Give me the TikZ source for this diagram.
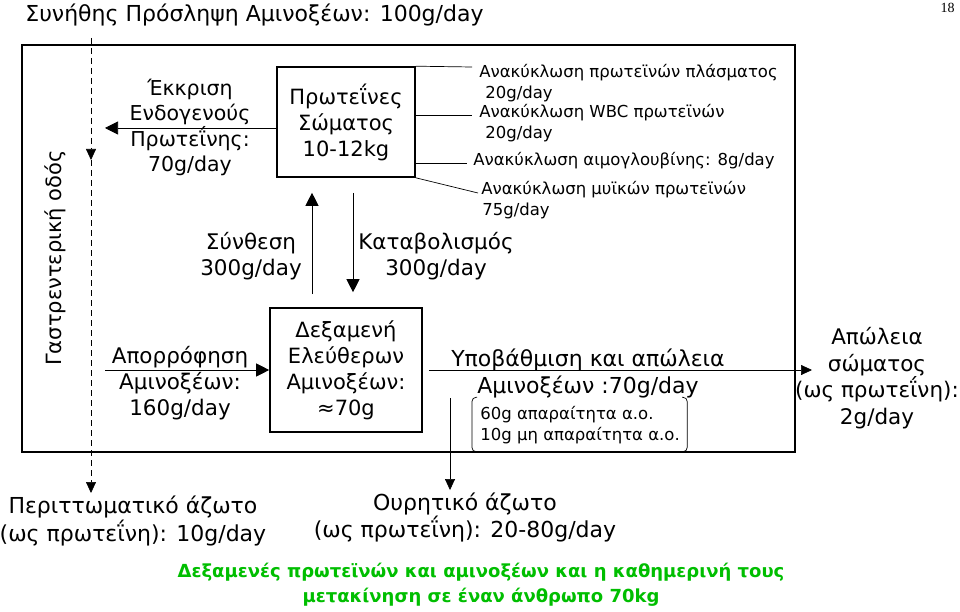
\documentclass[tikz,border=0pt]{standalone}
\usepackage{fontspec}
\setmainfont{DejaVu Sans}
\newfontfamily\pagefont{Liberation Serif}
\usetikzlibrary{arrows.meta}
\definecolor{poolgreen}{RGB}{0,190,0}
\tikzset{
  flow/.style={align=center, font=\fontsize{21.5}{26}\selectfont, inner sep=0pt},
  note/.style={align=left, font=\fontsize{16.5}{20.5}\selectfont, inner sep=0pt},
  store/.style={draw, line width=1.6pt, align=center, font=\fontsize{21}{26}\selectfont},
  lighttip/.style={>={Triangle[length=11pt,width=10pt]}}
}
\begin{document}
\begin{tikzpicture}[x=1pt,y=-1pt,line width=0.7pt,>={Triangle[length=13pt,width=13pt]}]
  \useasboundingbox (0,0) rectangle (960,612);

  \node (title)      at (25,15)   [anchor=west, inner sep=0pt, font=\fontsize{22}{26}\selectfont] {Συνήθης Πρόσληψη Αμινοξέων: 100g/day};
  \node (page)       at (955,8)   [anchor=east, inner sep=0pt, font=\fontsize{14}{16}\pagefont] {18};
  \node (frame)      at (408.5,248.5) [draw, line width=1.6pt, minimum width=773pt, minimum height=407pt] {};
  \node (gut)        at (55,258)  [rotate=90, inner sep=0pt, font=\fontsize{21}{25}\selectfont] {Γαστρεντερική οδός};

  \node (body)       at (346,122) [store, minimum width=138pt, minimum height=110pt] {Πρωτεΐνες\\Σώματος\\10-12kg};
  \node (pool)       at (346,370) [store, minimum width=152pt, minimum height=124pt] {Δεξαμενή\\Ελεύθερων\\Αμινοξέων:\\≈70g};

  \node (secretion)  at (190,127.5) [flow, font=\fontsize{20.5}{25.5}\selectfont] {Έκκριση\\Ενδογενούς\\Πρωτεΐνης:\\70g/day};
  \node (synthesis)  at (251,256) [flow] {Σύνθεση\\300g/day};
  \node (catabolism) at (436,256) [flow] {Καταβολισμός\\300g/day};
  \node (absorb)     at (180,383) [flow] {Απορρόφηση\\Αμινοξέων:\\160g/day};
  \node (degrade)    at (588,373.5) [flow, font=\fontsize{22}{27}\selectfont] {Υποβάθμιση και απώλεια\\Αμινοξέων :70g/day};
  \node (essential)  at (480,425.5) [note, anchor=west, font=\fontsize{16.5}{21}\selectfont] {60g απαραίτητα α.ο.\\10g μη απαραίτητα α.ο.};
  \node (loss)       at (877,378) [flow, font=\fontsize{21.5}{26.5}\selectfont] {Απώλεια\\σώματος\\(ως πρωτεΐνη):\\2g/day};
  \node (feces)      at (133,521) [flow, font=\fontsize{22}{26}\selectfont] {Περιττωματικό άζωτο\\(ως πρωτεΐνη): 10g/day};
  \node (urine)      at (465,518) [flow, font=\fontsize{22}{27}\selectfont] {Ουρητικό άζωτο\\(ως πρωτεΐνη): 20-80g/day};

  \node (plasma)     at (479,83)  [note, anchor=west] {Ανακύκλωση πρωτεϊνών πλάσματος\\\hspace*{6pt}20g/day};
  \node (wbc)        at (479,123) [note, anchor=west] {Ανακύκλωση WBC πρωτεϊνών\\\hspace*{6pt}20g/day};
  \node (hemo)       at (473,161) [note, anchor=west] {Ανακύκλωση αιμογλουβίνης: 8g/day};
  \node (muscle)     at (481,200) [note, anchor=west] {Ανακύκλωση μυϊκών πρωτεϊνών\\\hspace*{1pt}75g/day};

  \node (caption)    at (481,585) [flow, font=\fontsize{18}{25}\selectfont\bfseries, text=poolgreen] {Δεξαμενές πρωτεϊνών και αμινοξέων και η καθημερινή τους\\μετακίνηση σε έναν άνθρωπο 70kg};

  \coordinate (plasmaend) at (472,67);
  \coordinate (wbcend)    at (472,115);
  \coordinate (hemoend)   at (467,163);
  \coordinate (muscleend) at (478,193);
  \draw (body.north east)     -- (plasmaend);
  \draw (body.east |- wbcend)  -- (wbcend);
  \draw (body.east |- hemoend) -- (hemoend);
  \draw (body.south east)     -- (muscleend);

  \coordinate (gtop)      at (91,38);
  \coordinate (gmid)      at (91,160);
  \coordinate (gbot)      at (91,493);
  \coordinate (gutin)     at (105,128);
  \coordinate (gutout)    at (105,370);
  \coordinate (lossin)    at (812,370);
  \coordinate (urinetop)  at (450,398);

  \draw[dash pattern=on 6pt off 4pt, lighttip, ->] (gtop) -- (gmid);
  \draw[dash pattern=on 6pt off 4pt, lighttip, ->] (gmid) -- (gbot);
  \draw[->] (body.west |- gutin) -- (gutin);
  \draw[->] (gutout) -- (pool.west);
  \draw[->, shorten <=13pt, shorten >=15pt] ([xshift=-34pt]pool.north) -- ([xshift=-34pt]body.south);
  \draw[->, shorten <=15pt, shorten >=15pt] ([xshift=7pt]body.south) -- ([xshift=7pt]pool.north);
  \draw[lighttip, ->, shorten <=6pt] (pool.east) -- (lossin);
  \draw[lighttip, ->, shorten >=3pt] (urinetop) -- (urinetop |- urine.north);

  \draw[rounded corners=4pt] ([xshift=-3pt,yshift=9pt]essential.north west) -- ([xshift=-8pt,yshift=9pt]essential.north west)
    -- ([xshift=-8pt,yshift=-7pt]essential.south west) -- ([xshift=-3pt,yshift=-7pt]essential.south west);
  \draw[rounded corners=4pt] ([xshift=2pt,yshift=9pt]essential.north east) -- ([xshift=7pt,yshift=9pt]essential.north east)
    -- ([xshift=7pt,yshift=-7pt]essential.south east) -- ([xshift=2pt,yshift=-7pt]essential.south east);
\end{tikzpicture}
\end{document}
